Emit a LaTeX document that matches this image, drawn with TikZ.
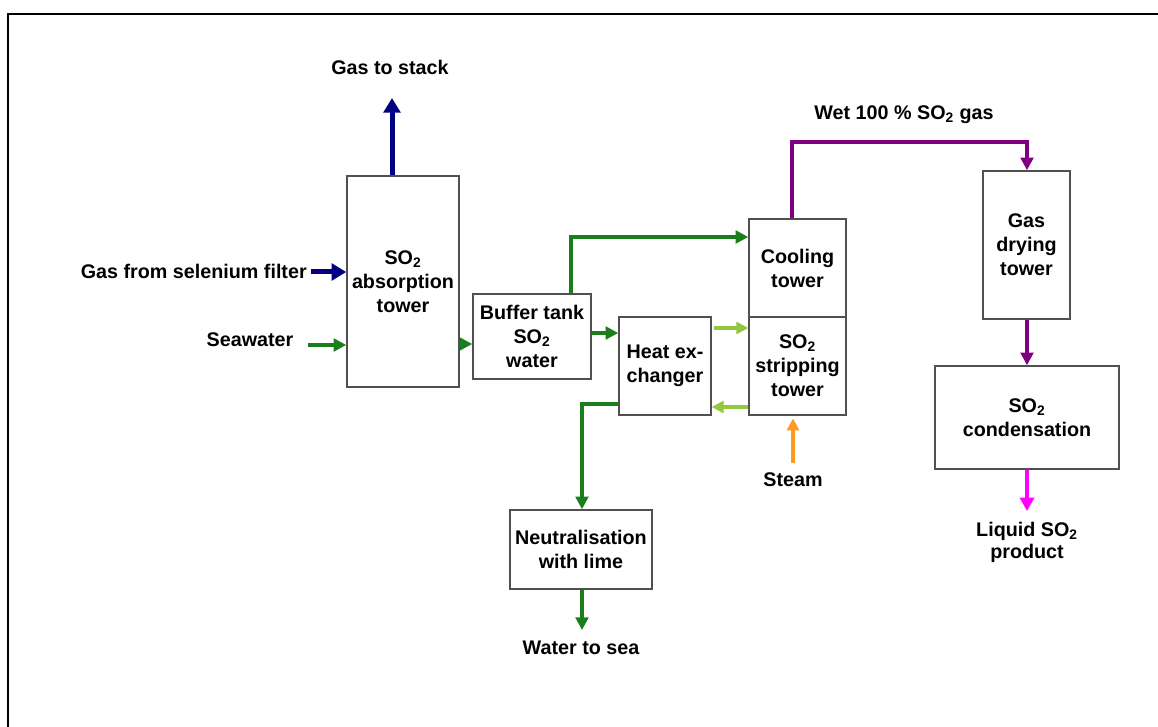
\documentclass[tikz,border=0pt]{standalone}
\usepackage{fontspec}
\setmainfont{Liberation Sans}
\usetikzlibrary{arrows.meta}
\definecolor{navyc}{HTML}{000080}
\definecolor{dgreen}{HTML}{1A7F1A}
\definecolor{lgreen}{HTML}{92C83E}
\definecolor{purp}{HTML}{800080}
\definecolor{orng}{HTML}{FF9922}
\definecolor{magc}{HTML}{FF00FF}
\definecolor{boxc}{HTML}{505050}
\tikzset{
  box/.style={draw=boxc, line width=1.1pt, fill=white, align=center, inner sep=0pt,
    font=\fontsize{14.8}{18}\selectfont\bfseries},
  lbl/.style={align=center, inner sep=0pt, font=\fontsize{14.8}{16.5}\selectfont\bfseries},
  navyarr/.style={draw=navyc, line width=3.75pt, -{Triangle[length=11pt,width=12.5pt]}},
  greenarr/.style={draw=dgreen, line width=2.7pt, -{Triangle[length=9.5pt,width=9.5pt]}},
  lgreenarr/.style={draw=lgreen, line width=2.5pt, -{Triangle[length=9pt,width=9pt]}},
  purparr/.style={draw=purp, line width=2.7pt, -{Triangle[length=9.5pt,width=9.5pt]}},
  orngarr/.style={draw=orng, line width=2.5pt, -{Triangle[length=9pt,width=9pt]}},
  magarr/.style={draw=magc, line width=2.7pt, -{Triangle[length=10pt,width=10.5pt]}},
}
\begin{document}
\begin{tikzpicture}[x=0.75pt,y=-0.75pt]
\useasboundingbox (0,0) rectangle (1158,727);
\draw[line width=2.2pt] (8,727) -- (8,14) -- (1158,14);

% boxes
\node[box, minimum width=84pt, minimum height=158.25pt] (abs) at (403,281.5) {SO\textsubscript{2}\\absorption\\tower};
\node[box, minimum width=88.5pt, minimum height=63.75pt] (buf) at (532,336.5) {Buffer tank\\SO\textsubscript{2}\\water};
\node[box, minimum width=69pt, minimum height=73.5pt] (hx) at (665,366) {Heat ex-\\changer};
\node[box, minimum width=72.75pt, minimum height=73.5pt] (cool) at (797.5,268) {Cooling\\tower};
\node[box, minimum width=72.75pt, minimum height=73.5pt] (strip) at (797.5,366) {SO\textsubscript{2}\\stripping\\tower};
\node[box, minimum width=65.25pt, minimum height=111pt] (dry) at (1026.5,245) {Gas\\drying\\tower};
\node[box, minimum width=138pt, minimum height=77.25pt] (cond) at (1027,417.5) {SO\textsubscript{2}\\condensation};
\node[box, minimum width=106.5pt, minimum height=59.25pt] (neut) at (581,549.5) {Neutralisation\\with lime};

% labels
\node[lbl] (stack) at (390,67) {Gas to stack};
\node[lbl, anchor=east] (selen) at (307,271) {Gas from selenium filter};
\node[lbl] (sea) at (250,340) {Seawater};
\node[lbl] (wet) at (904,115) {Wet 100 \% SO\textsubscript{2} gas};
\node[lbl] (steam) at (793,480) {Steam};
\node[lbl] (liq) at (1027,542) {Liquid SO\textsubscript{2}\\product};
\node[lbl] (wsea) at (581,648) {Water to sea};

% helper coordinates
\coordinate (s1) at (392,98);
\coordinate (sw1) at (308,345);
\coordinate (ab) at (466,344);
\coordinate (bc) at (571,237);
\coordinate (bh) at (600,333);
\coordinate (hs) at (730,328);
\coordinate (sh) at (730,407);
\coordinate (hn) at (582,404);
\coordinate (seatip) at (582,630);
\coordinate (st) at (793,463);
\coordinate (w1) at (792,142);
\coordinate (w2) at (1027,142);
\coordinate (liqtip) at (1027,511);

% connectors
\draw[navyarr] (s1 |- abs.north) -- (s1);
\draw[navyarr] ([xshift=3pt]selen.east |- 0,272) -- (abs.west |- 0,272);
\draw[greenarr] (sw1) -- (sw1 -| abs.west);
\draw[greenarr] (ab -| abs.east) -- (ab -| buf.west);
\draw[greenarr] (bc |- buf.north) -- (bc) -- (bc -| cool.west);
\draw[greenarr] (bh -| buf.east) -- (bh -| hx.west);
\draw[lgreenarr, shorten <=1.5pt] (hs -| hx.east) -- (hs -| strip.west);
\draw[lgreenarr] (sh -| strip.west) -- (sh -| hx.east);
\draw[greenarr] (hn -| hx.west) -- (hn) -- (hn |- neut.north);
\draw[greenarr] (neut.south -| seatip) -- (seatip);
\draw[orngarr, shorten >=2pt] (st) -- (st |- strip.south);
\draw[purparr] (w1 |- cool.north) -- (w1) -- (w2) -- (w2 |- dry.north);
\draw[purparr] (dry.south -| w2) -- (cond.north -| w2);
\draw[magarr] (cond.south -| liqtip) -- (liqtip);
\end{tikzpicture}
\end{document}
